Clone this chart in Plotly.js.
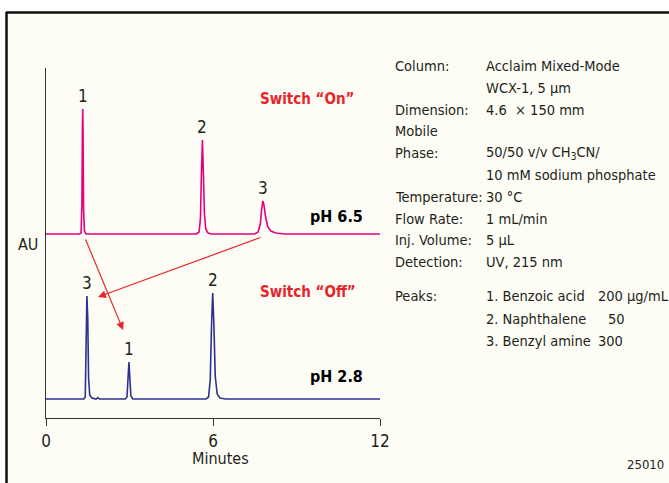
<!DOCTYPE html>
<html><head><meta charset="utf-8">
<script src="https://cdn.plot.ly/plotly-3.0.1.min.js"></script>
<style>html,body{margin:0;padding:0;background:#ffffff}</style>
</head><body><div id="chart" style="width:669px;height:483px"></div>
<script>
// ---- data ----
// pH 6.5, Switch "On" trace (minutes, AU arbitrary units)
const timeOn = [0, 0.6, 1.20, 1.26, 1.29, 1.31, 1.32, 1.33, 1.35, 1.38, 1.44, 3.0, 5.40, 5.50, 5.55, 5.58, 5.62, 5.66, 5.69, 5.74, 5.82, 5.95, 7.0, 7.50, 7.62, 7.70, 7.75, 7.79, 7.83, 7.89, 7.97, 8.08, 8.25, 8.6, 10, 12];
const signalOn = [184, 184, 184, 185, 214, 294, 309, 289, 209, 187, 184, 184, 184, 186, 200, 240, 278, 240, 205, 189, 185, 184, 184, 184, 186, 194, 209, 217, 213, 201, 191, 187, 185, 184, 184, 184];
// pH 2.8, Switch "Off" trace
const timeOff = [0, 0.8, 1.36, 1.41, 1.44, 1.47, 1.50, 1.53, 1.57, 1.65, 1.80, 1.86, 1.92, 2.5, 2.85, 2.91, 2.95, 2.98, 3.01, 3.05, 3.12, 4.5, 5.75, 5.84, 5.90, 5.95, 5.99, 6.03, 6.08, 6.15, 6.25, 6.45, 9, 12];
const signalOff = [19, 19, 19, 21, 70, 122, 100, 40, 23, 20, 19, 20.5, 19, 19, 19, 21, 40, 56, 41, 22, 19, 19, 19, 21, 38, 95, 125, 95, 42, 24, 20, 19, 19, 19];
// peak apexes and labels
const peakOnTimes = [1.32, 5.62, 7.79];
const peakOnHeights = [309, 278, 217];
const peakOnLabels = ['1', '2', '3'];
const peakOffTimes = [1.47, 2.98, 5.99];
const peakOffHeights = [122, 56, 125];
const peakOffLabels = ['3', '1', '2'];
// x axis ticks
const xTickVals = [0, 6, 12];
const xTickText = ['0', '6', '12'];
// condition table
const condLabels = ['Column:', '', 'Dimension:', 'Mobile', 'Phase:', '', 'Temperature:', 'Flow Rate:', 'Inj. Volume:', 'Detection:'];
const condValues = ['Acclaim Mixed-Mode', 'WCX-1, 5 µm', '4.6  × 150 mm', '', '50/50 v/v CH<sub>3</sub>CN/', '10 mM sodium phosphate', '30 °C', '1 mL/min', '5 µL', 'UV, 215 nm'];
const peakNames = ['1. Benzoic acid', '2. Naphthalene', '3. Benzyl amine'];
const peakConc = ['200 µg/mL', '50', '300'];

// ---- layout helpers ----
const FONT = 'DejaVu Sans Condensed, Liberation Sans Narrow, Arial Narrow, sans-serif';
const L = 46, R = 380, T = 68, B = 418;
const px2x = p => (p - L) / (R - L);
const py2y = p => (B - p) / (B - T);
const TXT = '#231f20', RED = '#e8242b', PINK = '#e6007e', BLUE = '#2e3192';
const FS = 14.5;

const ann = [];
function txt(xp, yp, s, size, xanchor, extra) {
  ann.push(Object.assign({xref: 'paper', yref: 'paper', x: px2x(xp), y: py2y(yp), text: s, showarrow: false,
    xanchor: xanchor || 'left', yanchor: 'middle', font: {family: FONT, size: size, color: TXT}}, extra || {}));
}
peakOnTimes.forEach((t, i) => ann.push({x: t, y: peakOnHeights[i], text: peakOnLabels[i], showarrow: false, xanchor: 'center', yanchor: 'bottom', yshift: 1, font: {family: FONT, size: 17, color: TXT}}));
peakOffTimes.forEach((t, i) => ann.push({x: t, y: peakOffHeights[i], text: peakOffLabels[i], showarrow: false, xanchor: 'center', yanchor: 'bottom', yshift: 1, font: {family: FONT, size: 17, color: TXT}}));
ann.push({x: 9.38, y: 319, text: '<b>Switch “On”</b>', showarrow: false, xanchor: 'center', yanchor: 'middle', font: {family: FONT, size: 15, color: RED}});
ann.push({x: 9.41, y: 126, text: '<b>Switch “Off”</b>', showarrow: false, xanchor: 'center', yanchor: 'middle', font: {family: FONT, size: 15, color: RED}});
ann.push({x: 10.42, y: 202, text: '<b>pH 6.5</b>', showarrow: false, xanchor: 'center', yanchor: 'middle', font: {family: FONT, size: 16, color: '#000'}});
ann.push({x: 10.42, y: 42, text: '<b>pH 2.8</b>', showarrow: false, xanchor: 'center', yanchor: 'middle', font: {family: FONT, size: 16, color: '#000'}});
// arrows
ann.push({x: 2.77, y: 88, ax: 1.40, ay: 180, axref: 'x', ayref: 'y', text: '', showarrow: true, arrowhead: 2, arrowsize: 1.3, arrowwidth: 1.2, arrowcolor: RED});
ann.push({x: 1.87, y: 121, ax: 7.76, ay: 181, axref: 'x', ayref: 'y', text: '', showarrow: true, arrowhead: 2, arrowsize: 1.3, arrowwidth: 1.2, arrowcolor: RED});
// axis labels
txt(28, 244, 'AU', 16, 'center');
txt(220, 458, 'Minutes', 16, 'center');
txt(666, 464, '25010', 13, 'right');
// conditions
condLabels.forEach((s, i) => {
  const yy = 66 + i * 21.8;
  if (s) txt(393, yy, s, FS);
  if (condValues[i]) txt(484, yy, condValues[i], FS);
});
txt(393, 296, 'Peaks:', FS);
peakNames.forEach((s, i) => {
  const yy = 296 + i * 22.5;
  txt(484, yy, s, FS);
  if (i === 1) txt(616, yy, peakConc[i], FS, 'center');
  else txt(596, yy, peakConc[i], FS);
});

const shapes = [
  // white outside the frame
  {type: 'rect', xref: 'paper', yref: 'paper', x0: px2x(-5), x1: px2x(680), y0: py2y(12), y1: py2y(-5), fillcolor: '#ffffff', line: {width: 0}, layer: 'below'},
  {type: 'rect', xref: 'paper', yref: 'paper', x0: px2x(-5), x1: px2x(6), y0: py2y(490), y1: py2y(-5), fillcolor: '#ffffff', line: {width: 0}, layer: 'below'},
  // frame
  {type: 'line', xref: 'paper', yref: 'paper', x0: px2x(6), x1: px2x(672), y0: py2y(12.5), y1: py2y(12.5), line: {color: '#111', width: 2.5}},
  {type: 'line', xref: 'paper', yref: 'paper', x0: px2x(6.5), x1: px2x(6.5), y0: py2y(12), y1: py2y(490), line: {color: '#111', width: 2.5}}
];

const data = [
  {x: timeOn, y: signalOn, type: 'scatter', mode: 'lines', line: {color: PINK, width: 1.6}, hoverinfo: 'skip'},
  {x: timeOff, y: signalOff, type: 'scatter', mode: 'lines', line: {color: BLUE, width: 1.6}, hoverinfo: 'skip'}
];

const layout = {
  width: 669, height: 483,
  margin: {l: L, r: 669 - R, t: T, b: 483 - B, pad: 0},
  paper_bgcolor: '#fdfdf5', plot_bgcolor: 'rgba(0,0,0,0)',
  showlegend: false,
  xaxis: {range: [0, 12], tickvals: xTickVals, ticktext: xTickText, ticks: 'outside', ticklen: 7, tickwidth: 1, tickcolor: '#333',
          showline: true, linecolor: '#333', linewidth: 1.2, showgrid: false, zeroline: false,
          tickfont: {family: FONT, size: 17, color: TXT}},
  yaxis: {range: [0, 350], showticklabels: false, ticks: '', showline: true, linecolor: '#333', linewidth: 1.2, showgrid: false, zeroline: false},
  annotations: ann,
  shapes: shapes,
  font: {family: FONT, color: TXT}
};
Plotly.newPlot('chart', data, layout, {displayModeBar: false, staticPlot: true});
</script></body></html>
